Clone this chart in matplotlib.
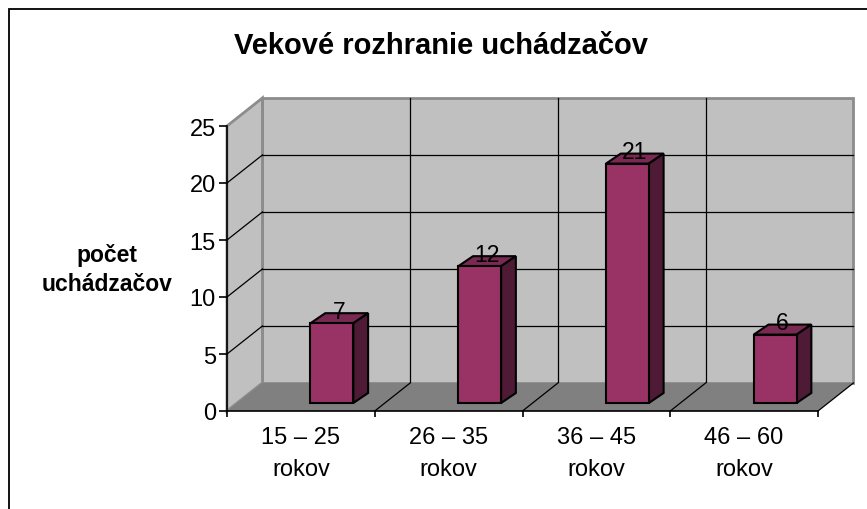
import matplotlib
matplotlib.use("Agg")
import matplotlib.pyplot as plt
from matplotlib.patches import Polygon, Rectangle

plt.rcParams["font.family"] = ["Liberation Sans", "DejaVu Sans"]

TITLE = "Vekové rozhranie uchádzačov"
Y_LABEL = "počet\nuchádzačov"
CATEGORIES = ["15 – 25\nrokov", "26 – 35\nrokov", "36 – 45\nrokov", "46 – 60\nrokov"]
COUNTS = [7, 12, 21, 6]
Y_TICKS = [0, 5, 10, 15, 20, 25]

# 3d look, in data units of the front plane
DEPTH_X = 0.24
DEPTH_Y = 2.46
BAR_CENTER = 0.71
BAR_W = 0.29
BAR_BASE = 0.70
BAR_DX = 0.10
BAR_DY = 0.88

WALL = "#c0c0c0"
FLOOR = "#808080"
EDGE_GRAY = "#8c8c8c"
BAR_FRONT = "#993366"
BAR_TOP = "#7a2952"
BAR_SIDE = "#4f1a35"

W, H = 867, 510


def poly(ax, pts, fc, ec="none", lw=0, z=1):
    p = Polygon(pts, closed=True, facecolor=fc, edgecolor=ec, linewidth=lw,
                zorder=z, clip_on=False, joinstyle="miter")
    ax.add_patch(p)


def main():
    fig = plt.figure(figsize=(W / 100, H / 100), dpi=100)
    ax = fig.add_axes([227 / W, 1 - 412 / H, 591 / W, 285 / H])
    ax.patch.set_visible(False)

    n = len(CATEGORIES)
    ymax = Y_TICKS[-1]
    ax.set_xlim(0, n)
    ax.set_ylim(0, ymax)

    # back wall
    poly(ax, [(DEPTH_X, DEPTH_Y), (n + DEPTH_X, DEPTH_Y),
              (n + DEPTH_X, ymax + DEPTH_Y), (DEPTH_X, ymax + DEPTH_Y)],
         WALL, EDGE_GRAY, 2.0, z=0.5)
    # side wall
    poly(ax, [(0, 0), (DEPTH_X, DEPTH_Y), (DEPTH_X, ymax + DEPTH_Y), (0, ymax)],
         WALL, EDGE_GRAY, 2.0, z=0.5)

    # gridlines on the walls
    for v in Y_TICKS[1:-1]:
        ax.plot([DEPTH_X, n + DEPTH_X], [v + DEPTH_Y, v + DEPTH_Y],
                color="black", lw=0.9, zorder=0.6, clip_on=False)
        ax.plot([0, DEPTH_X], [v, v + DEPTH_Y],
                color="black", lw=0.9, zorder=0.6, clip_on=False)
    for i in range(1, n):
        ax.plot([i + DEPTH_X, i + DEPTH_X], [DEPTH_Y, ymax + DEPTH_Y],
                color="black", lw=0.9, zorder=0.6, clip_on=False)

    # floor
    poly(ax, [(0, 0), (n, 0), (n + DEPTH_X, DEPTH_Y), (DEPTH_X, DEPTH_Y)],
         FLOOR, z=0.7)
    for i in range(1, n + 1):
        ax.plot([i, i + DEPTH_X], [0, DEPTH_Y], color="black", lw=0.9,
                zorder=0.8, clip_on=False)

    # bars
    for i, v in enumerate(COUNTS):
        x0 = i + BAR_CENTER - BAR_W / 2
        x1 = x0 + BAR_W
        top = BAR_BASE + v
        poly(ax, [(x0, top), (x1, top), (x1 + BAR_DX, top + BAR_DY),
                  (x0 + BAR_DX, top + BAR_DY)], BAR_TOP, "black", 1.5, z=2)
        poly(ax, [(x1, BAR_BASE), (x1 + BAR_DX, BAR_BASE + BAR_DY),
                  (x1 + BAR_DX, top + BAR_DY), (x1, top)],
             BAR_SIDE, "black", 1.5, z=2)
        poly(ax, [(x0, BAR_BASE), (x1, BAR_BASE), (x1, top), (x0, top)],
             BAR_FRONT, "black", 1.5, z=2.1)
        ax.text(i + BAR_CENTER + BAR_DX / 2, top + BAR_DY / 2 + 0.6, str(v),
                ha="center", va="center", fontsize=16.5, zorder=3)

    # axes
    for s in ["top", "right"]:
        ax.spines[s].set_visible(False)
    for s in ["left", "bottom"]:
        ax.spines[s].set_linewidth(1.2)
        ax.spines[s].set_zorder(1.5)
    ax.set_yticks(Y_TICKS)
    ax.tick_params(axis="y", direction="out", length=6, width=1.2, pad=2,
                   labelsize=17)
    ax.set_xticks(range(n + 1))
    ax.set_xticklabels([])
    ax.tick_params(axis="x", which="major", direction="out", length=4.5,
                   width=1.2)
    ax.set_xticks([i + 0.5 for i in range(n)], minor=True)
    ax.set_xticklabels(CATEGORIES, minor=True, fontsize=17, linespacing=1.6)
    ax.tick_params(axis="x", which="minor", length=0, pad=11)

    fig.text(441 / W, 1 - 46 / H, TITLE, ha="center", va="center",
             fontsize=21, fontweight="bold")
    fig.text(107 / W, 1 - 270 / H, Y_LABEL, ha="center", va="center",
             fontsize=16.5, fontweight="bold", linespacing=1.3)

    # chart frame (runs off the right and bottom edge)
    fig.patches.append(Rectangle((9 / W, -0.05), 1.1, 1 - 10 / H + 0.05,
                                 transform=fig.transFigure, fill=False,
                                 edgecolor="black", linewidth=1.3))

    fig.savefig("out.png", dpi=100)


if __name__ == "__main__":
    main()
